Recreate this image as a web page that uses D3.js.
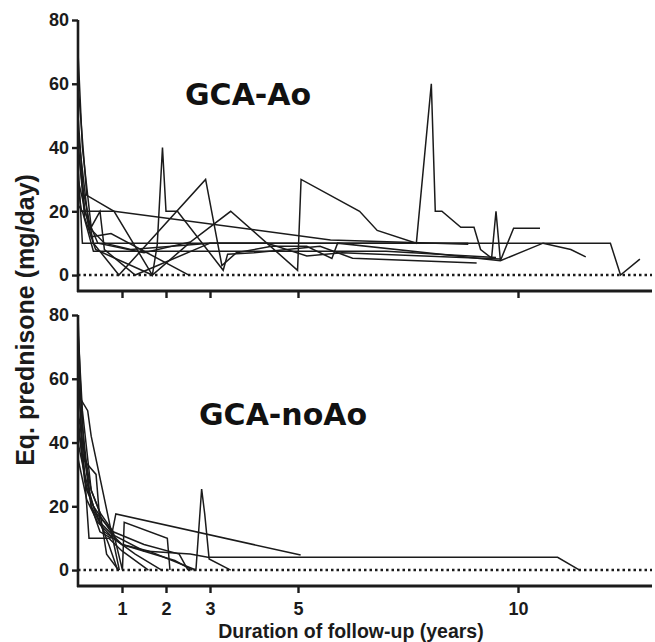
<!DOCTYPE html>
<html>
<head>
<meta charset="utf-8">
<script src="https://cdn.jsdelivr.net/npm/d3@7"></script>
<style>
  html, body { margin: 0; padding: 0; background: #fff; }
  svg { display: block; }
</style>
</head>
<body>
<svg id="chart" width="655" height="642"></svg>
<script>
// ---------- DATA (years, mg/day) ----------
const xTicks = [1, 2, 3, 5, 10];
const yTicks = [0, 20, 40, 60, 80];
const panelTitles = ["GCA-Ao", "GCA-noAo"];
const yTitle = "Eq. prednisone (mg/day)";
const xTitle = "Duration of follow-up (years)";

// GCA-Ao patients
const ao1 = [[0,50],[0.15,20],[0.45,10],[1.5,7],[2.56,10.4],[3.47,20],[4.99,1.5],[5.07,30],[6.4,20],[6.8,14],[7.69,10],[8.03,60],[8.12,20],[8.27,20],[8.7,15],[9.0,15],[9.15,8],[9.4,5.3],[9.5,20],[9.6,4.5],[9.9,14.7],[10.5,14.7]];
const ao2 = [[0,60],[0.2,25],[0.82,20],[1.69,0],[1.8,9.4],[1.92,40],[2.0,20],[2.26,20],[3.3,1.5],[3.4,6.5],[4.0,7],[5.5,9],[6.24,5.3],[9.06,3.8]];
const ao3 = [[0,40],[0.1,28],[0.35,10],[0.93,0],[2.9,30],[3.27,3],[3.6,7],[4.4,9],[5.2,9],[5.77,5.2],[5.9,10],[9.6,4.5],[10.57,10],[11.2,8],[11.54,5.7]];
const ao4 = [[0,28],[0.08,20],[0.82,20],[5.74,11],[8.87,9.7]];
const ao5 = [[0,35],[0.1,10],[8.87,10]];
const ao6 = [[0,45],[0.25,15],[0.6,10],[1.2,8],[3.0,10],[6.0,10],[10.57,10],[12.1,10],[12.33,0],[12.77,5]];
const ao7 = [[0,70],[0.1,40],[0.3,15],[0.5,20],[0.6,8],[1.3,0],[3.0,10],[4.3,10],[5.2,6],[6.0,7],[9.6,5]];
const ao8 = [[0,30],[0.3,12],[0.75,13],[2.52,0]];
const ao9 = [[0,42],[0.15,18],[0.4,8],[1.69,0],[2.56,10.4]];
const ao10 = [[0,22],[0.1,20],[0.35,7.5],[7.0,7.5],[9.5,5.5]];

// GCA-noAo patients
const noAo1 = [[0,80],[0.05,60],[0.15,35],[0.3,20],[0.5,12],[0.75,10],[0.86,17.6],[5.06,4.7]];
const noAo2 = [[0,50],[0.1,40],[0.3,25],[0.5,18],[0.8,12],[1.01,0],[1.05,15],[2.03,10],[2.09,0]];
const noAo3 = [[0,45],[0.2,25],[0.5,15],[1.0,8],[1.6,6],[2.68,0],[2.81,25.4],[2.88,17.6],[2.98,3.5],[3.47,0]];
const noAo4 = [[0,60],[0.15,30],[0.35,20],[0.8,11],[1.5,6],[2.55,5],[2.95,4],[10.9,4],[11.4,0]];
const noAo5 = [[0,70],[0.1,45],[0.3,20],[0.6,12],[1.0,8],[2.2,3],[2.6,0]];
const noAo6 = [[0,55],[0.22,50],[0.3,42],[0.94,0]];
const noAo7 = [[0,40],[0.15,30],[0.25,10],[0.7,10],[1.0,6],[1.6,0]];
const noAo8 = [[0,65],[0.1,35],[0.41,30],[0.5,15],[0.7,8],[0.9,0]];
const noAo9 = [[0,35],[0.2,22],[0.45,15],[0.8,10],[1.3,5],[1.9,0]];
const noAo10 = [[0,75],[0.1,50],[0.3,25],[0.5,18],[0.65,5],[0.92,0]];
const noAo11 = [[0,48],[0.15,28],[0.4,18],[0.8,12],[1.5,8],[2.3,5],[2.5,0]];

const aoSeries = [ao1, ao2, ao3, ao4, ao5, ao6, ao7, ao8, ao9, ao10];
const noAoSeries = [noAo1, noAo2, noAo3, noAo4, noAo5, noAo6, noAo7, noAo8, noAo9, noAo10, noAo11];

// ---------- DRAW ----------
const svg = d3.select("#chart");
svg.append("rect").attr("width", 655).attr("height", 642).attr("fill", "#fff");

const x = d3.scaleLinear().domain([0, 13]).range([78, 650]);
const ink = "#1b1b1b";
const tickFont = "'Liberation Sans', Arial, sans-serif";

const panels = [
  { series: aoSeries, title: panelTitles[0], top: 20, bottom: 291, labels: false, tx: 185, ty: 105 },
  { series: noAoSeries, title: panelTitles[1], top: 315, bottom: 586, labels: true, tx: 199, ty: 425 }
];

panels.forEach(p => {
  const y = d3.scaleLinear().domain([-5, 80]).range([p.bottom, p.top]);
  const g = svg.append("g");

  // zero reference (dotted)
  g.append("line")
    .attr("x1", x(0)).attr("x2", x(13) + 2)
    .attr("y1", y(0)).attr("y2", y(0))
    .attr("stroke", ink).attr("stroke-width", 2.4)
    .attr("stroke-dasharray", "2.5,3");

  // patient lines
  const line = d3.line().x(d => x(d[0])).y(d => y(d[1]));
  g.selectAll("path.pt").data(p.series).enter().append("path")
    .attr("class", "pt")
    .attr("d", line)
    .attr("fill", "none")
    .attr("stroke", ink)
    .attr("stroke-width", 1.5)
    .attr("stroke-linejoin", "miter");

  // y axis
  const ya = g.append("g").attr("transform", `translate(${x(0)},0)`)
    .call(d3.axisLeft(y).tickValues(yTicks).tickSize(6).tickSizeOuter(0).tickPadding(3));
  ya.select(".domain").attr("stroke", ink).attr("stroke-width", 2.6)
    .attr("d", `M0,${p.top}V${p.bottom + 1}`);
  ya.selectAll(".tick line").attr("stroke", ink).attr("stroke-width", 2.4);
  ya.selectAll(".tick text").attr("font-family", tickFont).attr("font-weight", "bold")
    .attr("font-size", 18).attr("fill", ink);

  // x axis
  const xa = g.append("g").attr("transform", `translate(0,${p.bottom})`)
    .call(d3.axisBottom(x).tickValues(xTicks).tickSize(7).tickSizeOuter(0).tickPadding(9)
      .tickFormat(p.labels ? d3.format("d") : () => ""));
  xa.select(".domain").attr("stroke", ink).attr("stroke-width", 3)
    .attr("d", `M${x(0) - 1},0H${x(13) + 2}`);
  xa.selectAll(".tick line").attr("stroke", ink).attr("stroke-width", 2.4);
  xa.selectAll(".tick text").attr("font-family", tickFont).attr("font-weight", "bold")
    .attr("font-size", 18).attr("fill", ink);

  // panel title
  g.append("text").attr("x", p.tx).attr("y", p.ty)
    .attr("font-family", "'DejaVu Sans', Verdana, sans-serif")
    .attr("font-weight", "bold").attr("font-size", 30).attr("fill", "#111")
    .text(p.title);
});

// axis titles
svg.append("text")
  .attr("transform", "translate(34,320) rotate(-90)")
  .attr("text-anchor", "middle")
  .attr("font-family", tickFont).attr("font-weight", "bold")
  .attr("font-size", 25).attr("fill", ink)
  .text(yTitle);

svg.append("text")
  .attr("x", 351).attr("y", 638)
  .attr("text-anchor", "middle")
  .attr("font-family", tickFont).attr("font-weight", "bold")
  .attr("font-size", 19.5).attr("fill", ink)
  .text(xTitle);
</script>
</body>
</html>
